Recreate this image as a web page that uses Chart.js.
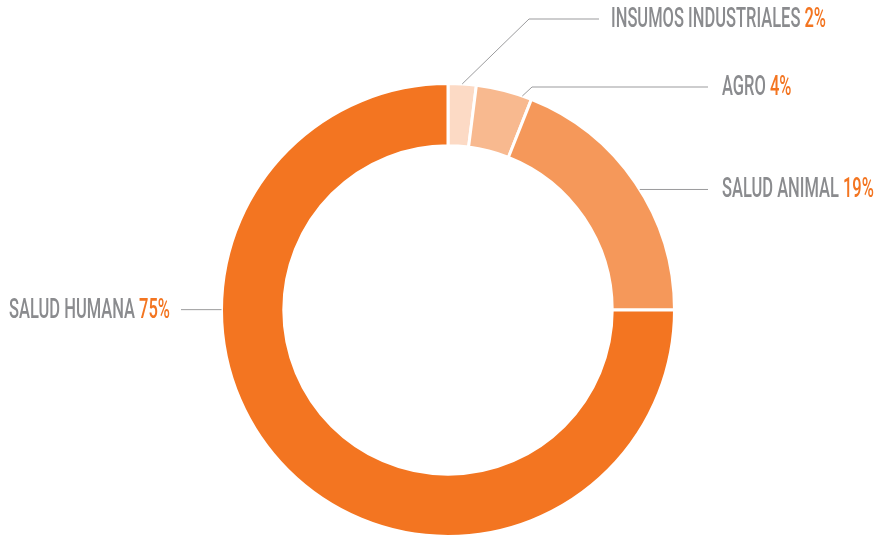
<!DOCTYPE html>
<html>
<head>
<meta charset="utf-8">
<script src="https://cdn.jsdelivr.net/npm/chart.js@4/dist/chart.umd.min.js"></script>
<style>
  html, body { margin: 0; padding: 0; background: #fff; }
  #contenedor { width: 878px; height: 538px; }
</style>
</head>
<body>
<div id="contenedor"><canvas id="graficoSectores"></canvas></div>
<script>
const categorias = ['INSUMOS INDUSTRIALES', 'AGRO', 'SALUD ANIMAL', 'SALUD HUMANA'];
const porcentajes = [2, 4, 19, 75];
const colores = ['#FCDAC5', '#F8B98F', '#F5985A', '#F37521'];

// donde sale cada linea guia y donde va el texto
const guias = [
    { t: 0.5,  codo: [529, 19], finX: 599, textoX: 611, alinear: 'left' },
    { t: 0.83, codo: [532, 87], finX: 708, textoX: 722, alinear: 'left' },
    { t: 0.53, codo: null, finX: 708, textoX: 722, alinear: 'left' },
    { t: 0.667, codo: null, finX: 181, textoX: 170, alinear: 'right' }
];

const etiquetasPlugin = {
    id: 'etiquetas',
    afterDraw(chart) {
        const ctx = chart.ctx;
        const arcos = chart.getDatasetMeta(0).data;
        ctx.save();
        ctx.font = '500 28px Roboto';
        // fuente condensada: se estrecha en horizontal
        const sx = 215 / ctx.measureText('INSUMOS INDUSTRIALES 2%').width;

        arcos.forEach((arco, i) => {
            const g = guias[i];
            const p = arco.getProps(['x', 'y', 'startAngle', 'endAngle', 'outerRadius']);
            const ang = p.startAngle + g.t * (p.endAngle - p.startAngle);
            const x0 = p.x + p.outerRadius * Math.cos(ang);
            const y0 = p.y + p.outerRadius * Math.sin(ang);
            const yLinea = g.codo ? g.codo[1] : y0;

            ctx.strokeStyle = '#9B9B9D';
            ctx.lineWidth = 1;
            ctx.beginPath();
            ctx.moveTo(x0, y0);
            if (g.codo) ctx.lineTo(g.codo[0], g.codo[1]);
            ctx.lineTo(g.finX, yLinea);
            ctx.stroke();

            const nombre = categorias[i] + ' ';
            const valor = porcentajes[i] + '%';
            const anchoNombre = ctx.measureText(nombre).width * sx;
            const anchoTotal = anchoNombre + ctx.measureText(valor).width * sx;
            const xt = g.alinear === 'right' ? g.textoX - anchoTotal : g.textoX;
            const yt = yLinea + 8;

            ctx.textBaseline = 'alphabetic';
            ctx.textAlign = 'left';
            ctx.save();
            ctx.translate(xt, yt);
            ctx.scale(sx, 1);
            ctx.fillStyle = '#8A8B8E';
            ctx.fillText(nombre, 0, 0);
            ctx.fillStyle = '#F37521';
            ctx.fillText(valor, anchoNombre / sx, 0);
            ctx.restore();
        });
        ctx.restore();
    }
};

window.crearGraficoSectores = () => {
    const ctx = document.getElementById('graficoSectores');
    if (!ctx) return;

    new Chart(ctx, {
        type: 'doughnut',
        data: {
            labels: categorias,
            datasets: [{
                data: porcentajes,
                backgroundColor: colores,
                borderColor: '#ffffff',
                borderWidth: 3
            }]
        },
        options: {
            responsive: true,
            maintainAspectRatio: false,
            animation: false,
            cutout: '72.5%',
            layout: { padding: { top: 82, left: 18, right: 0, bottom: 0 } },
            plugins: { legend: { display: false }, tooltip: { enabled: false } }
        },
        plugins: [etiquetasPlugin]
    });
};

crearGraficoSectores();
</script>
</body>
</html>
